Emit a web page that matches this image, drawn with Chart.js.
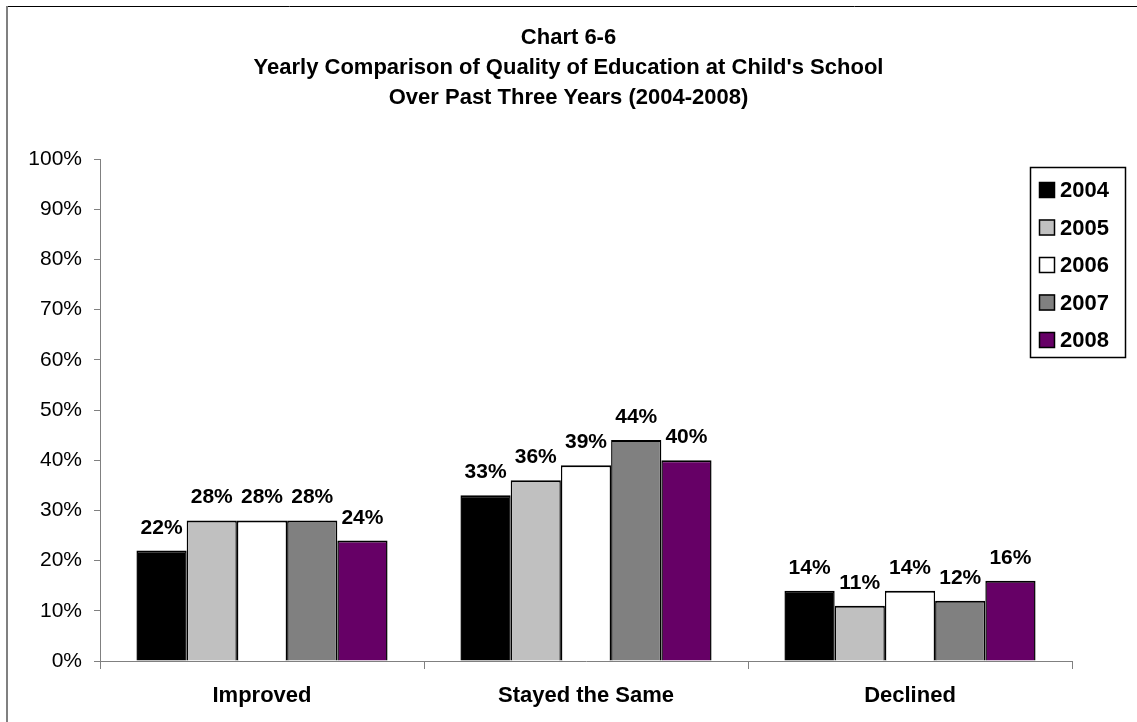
<!DOCTYPE html>
<html>
<head>
<meta charset="utf-8">
<title>Chart 6-6</title>
<script src="https://cdn.jsdelivr.net/npm/chart.js@4.4.1/dist/chart.umd.min.js"></script>
<style>
  html, body { margin: 0; padding: 0; background: #fff; }
  #wrap { width: 1137px; height: 722px; position: relative; }
</style>
</head>
<body>
<div id="wrap"><canvas id="chart" width="1137" height="722"></canvas></div>
<script>
// data
const categories = ['Improved', 'Stayed the Same', 'Declined'];
const years = ['2004', '2005', '2006', '2007', '2008'];
const values2004 = [22, 33, 14];
const values2005 = [28, 36, 11];
const values2006 = [28, 39, 14];
const values2007 = [28, 44, 12];
const values2008 = [24, 40, 16];
const yearColors = ['#000000', '#C0C0C0', '#FFFFFF', '#808080', '#660066'];
const titleLines = [
  'Chart 6-6',
  "Yearly Comparison of Quality of Education at Child's School",
  'Over Past Three Years (2004-2008)'
];

const FONT = '"Liberation Sans", Arial, Helvetica, sans-serif';
const seriesValues = [values2004, values2005, values2006, values2007, values2008];

// outer frame (only top and left edges are visible in the reference)
const framePlugin = {
  id: 'frame',
  beforeDraw(chart) {
    const ctx = chart.ctx;
    ctx.save();
    ctx.fillStyle = '#fff';
    ctx.fillRect(0, 0, chart.width, chart.height);
    ctx.strokeStyle = '#000';
    ctx.lineWidth = 1;
    ctx.beginPath();
    ctx.moveTo(7, 6.5);
    ctx.lineTo(chart.width, 6.5);
    ctx.stroke();
    ctx.strokeStyle = '#808080';
    ctx.lineWidth = 2;
    ctx.beginPath();
    ctx.moveTo(7, 6);
    ctx.lineTo(7, chart.height);
    ctx.stroke();
    ctx.restore();
  }
};

// value labels above each bar
const barLabelPlugin = {
  id: 'barLabels',
  afterDatasetsDraw(chart) {
    const ctx = chart.ctx;
    ctx.save();
    ctx.font = 'bold 21px ' + FONT;
    ctx.fillStyle = '#000';
    ctx.textAlign = 'center';
    ctx.textBaseline = 'alphabetic';
    chart.data.datasets.forEach((ds, i) => {
      const meta = chart.getDatasetMeta(i);
      meta.data.forEach((bar, j) => {
        ctx.fillText(ds.data[j] + '%', bar.x, bar.y - 17);
      });
    });
    ctx.restore();
  }
};

// boxed legend sitting inside the plot, top right
const boxLegendPlugin = {
  id: 'boxLegend',
  afterDraw(chart) {
    const ctx = chart.ctx;
    const left = 1030.5, top = 167.5, w = 95, h = 190;
    ctx.save();
    ctx.fillStyle = '#fff';
    ctx.fillRect(left, top, w, h);
    ctx.strokeStyle = '#000';
    ctx.lineWidth = 1.5;
    ctx.strokeRect(left, top, w, h);
    ctx.font = 'bold 22px ' + FONT;
    ctx.textAlign = 'left';
    ctx.textBaseline = 'middle';
    chart.data.datasets.forEach((ds, i) => {
      const cy = 190 + i * 37.5;
      ctx.fillStyle = ds.backgroundColor;
      ctx.fillRect(1039, cy - 8, 16, 16);
      ctx.strokeStyle = '#000';
      ctx.lineWidth = 1.5;
      ctx.strokeRect(1039.5, cy - 7.5, 15, 15);
      ctx.fillStyle = '#000';
      ctx.fillText(ds.label, 1060, cy + 1);
    });
    ctx.restore();
  }
};

new Chart(document.getElementById('chart'), {
  type: 'bar',
  data: {
    labels: categories,
    datasets: years.map((y, i) => ({
      label: y,
      data: seriesValues[i],
      backgroundColor: yearColors[i],
      borderColor: '#000',
      borderWidth: { top: 2, left: 1.5, right: 1.5, bottom: 0 },
      categoryPercentage: 0.775,
      barPercentage: 1.0
    }))
  },
  options: {
    responsive: false,
    animation: false,
    layout: { padding: 0 },
    plugins: {
      legend: { display: false },
      tooltip: { enabled: false },
      title: {
        display: true,
        text: titleLines,
        color: '#000',
        font: { family: FONT, size: 22, weight: 'bold', lineHeight: 30 / 22 },
        padding: { top: 23, bottom: 46 }
      }
    },
    scales: {
      x: {
        grid: {
          offset: true,
          drawOnChartArea: false,
          tickLength: 8,
          color: '#808080'
        },
        border: { color: '#808080', width: 1 },
        ticks: {
          color: '#000',
          padding: 14,
          font: { family: FONT, size: 22, weight: 'bold' }
        },
        afterFit(scale) { scale.height = 61; }
      },
      y: {
        min: 0,
        max: 100,
        grid: {
          drawOnChartArea: false,
          tickLength: 6,
          color: '#808080'
        },
        border: { color: '#808080', width: 1 },
        ticks: {
          stepSize: 10,
          color: '#000',
          padding: 12,
          font: { family: FONT, size: 21 },
          callback: v => v + '%'
        },
        afterFit(scale) { scale.width = 100; }
      },
      // empty spacer on the right so the title centres on the whole page
      ySpace: {
        position: 'right',
        min: 0,
        max: 100,
        grid: { display: false },
        border: { display: false },
        ticks: { display: false },
        afterFit(scale) { scale.width = 65; }
      }
    }
  },
  plugins: [framePlugin, barLabelPlugin, boxLegendPlugin]
});
</script>
</body>
</html>
